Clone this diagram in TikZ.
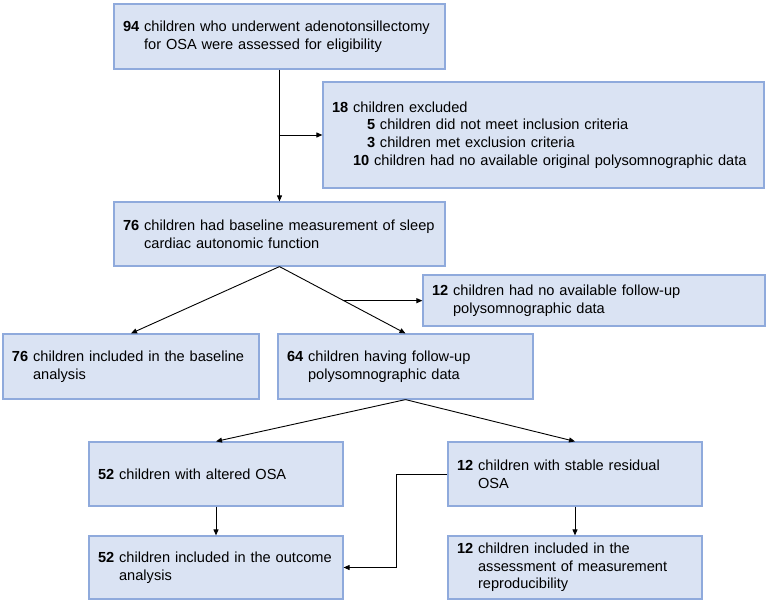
\documentclass[tikz,border=0pt]{standalone}
\usepackage{fontspec}
\setmainfont{Liberation Sans}
\usetikzlibrary{arrows.meta}

\definecolor{boxfill}{RGB}{218,227,243}
\definecolor{boxline}{RGB}{143,170,220}

\tikzset{
  box/.style={rectangle, draw=boxline, fill=boxfill, line width=1.2pt,
    inner xsep=9pt, inner ysep=0pt, align=left,
    font=\fontsize{14.6}{17.7}\selectfont}
}

\begin{document}
\begin{tikzpicture}[x=1pt, y=-1pt, >={Triangle[length=6pt,width=5pt]}, line width=0.9pt]
        \useasboundingbox (0,0) rectangle (768,604);
        \tikzstyle{every node} = [box]
        \node[text width=313pt, minimum height=65pt] (elig) at (279.5,36.5)
          {\textbf{94} children who underwent adenotonsillectomy\\\hphantom{\textbf{94} }for OSA were assessed for eligibility};
        \node[text width=423pt, minimum height=106pt] (excl) at (543.5,135)
          {\textbf{18} children excluded\\
           \hspace*{35pt}\textbf{5} children did not meet inclusion criteria\\
           \hspace*{35pt}\textbf{3} children met exclusion criteria\\
           \hspace*{21pt}\textbf{10} children had no available original polysomnographic data};
        \node[text width=313pt, minimum height=64pt] (base) at (279.5,234)
          {\textbf{76} children had baseline measurement of sleep\\\hphantom{\textbf{76} }cardiac autonomic function};
        \node[text width=324pt, minimum height=51pt] (nofollow) at (594,300.5)
          {\textbf{12} children had no available follow-up\\\hphantom{\textbf{12} }polysomnographic data};
        \node[text width=238pt, minimum height=65pt] (inclbase) at (131,366.5)
          {\textbf{76} children included in the baseline\\\hphantom{\textbf{76} }analysis};
        \node[text width=237pt, minimum height=65pt] (follow) at (405.5,366.5)
          {\textbf{64} children having follow-up\\\hphantom{\textbf{64} }polysomnographic data};
        \node[text width=236pt, minimum height=64pt] (altered) at (216,474)
          {\textbf{52} children with altered OSA};
        \node[text width=236pt, minimum height=64pt] (stable) at (575,474)
          {\textbf{12} children with stable residual\\\hphantom{\textbf{12} }OSA};
        \node[text width=236pt, minimum height=63pt] (outcome) at (216,567.5)
          {\textbf{52} children included in the outcome\\\hphantom{\textbf{52} }analysis};
        \node[text width=236pt, minimum height=63pt] (repro) at (575,567.5)
          {\textbf{12} children included in the\\\hphantom{\textbf{12} }assessment of measurement\\\hphantom{\textbf{12} }reproducibility};

        \foreach \from/\to in {elig/base, base/inclbase, base/follow, follow/altered, follow/stable, altered/outcome, stable/repro}
            \draw[->] (\from.south) -- (\to.north);

        % side branches
        \coordinate (split) at (elig.south |- excl.west);
        \draw[->] (split) -- (excl.west);
        \path (base.south) -- (follow.north) coordinate[pos=0.51] (fork);
        \draw[->] (fork) -- (fork -| nofollow.west);
        \draw[->] (stable.west) -- ++(-51,0) |- (outcome.east);
      \end{tikzpicture}
\end{document}
